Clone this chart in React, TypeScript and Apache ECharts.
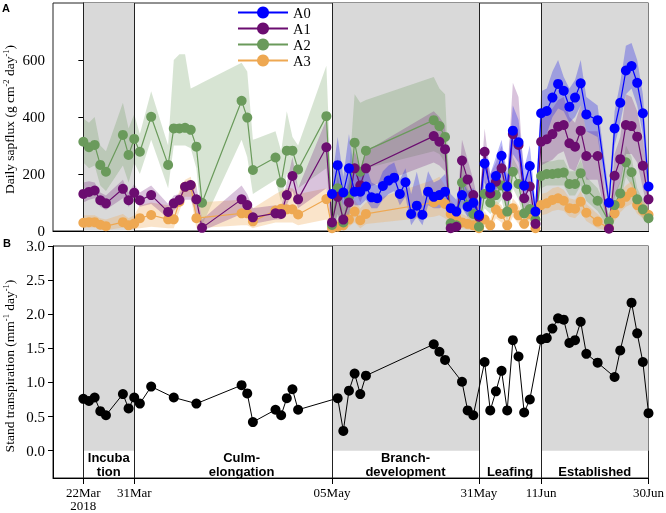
import React, { useEffect, useRef } from "react";
import * as echarts from "echarts";

// x values are days counted from 22 Mar 2018
const X_TICK_DAYS = [0, 9, 44, 70, 81, 100];
const X_TICK_LABELS = ["22Mar\n2018", "31Mar", "05May", "31May", "11Jun", "30Jun"];
const PHASE_BOUNDS = [0, 9, 44, 70, 81];
const SHADED = [[0, 9], [44, 70], [81, 100]];
const PHASE_TEXT = ["Incuba\ntion", "Culm-\nelongation", "Branch-\ndevelopment", "Leafing", "Established"];
const PHASE_DAY = [4.5, 28, 57, 75.5, 90.5];
const TOP_Y_TICKS = [0, 200, 400, 600];
const BOT_Y_TICKS = [0, 0.5, 1, 1.5, 2, 2.5, 3];

const DAYS = [0, 1, 2, 3, 4, 7, 8, 9, 10, 12, 15, 16, 17, 18, 19, 20, 21, 28, 29, 30, 34, 35, 36, 37, 38, 43,
  44, 45, 46, 47, 48, 49, 50, 62, 63, 64, 65, 66, 67, 68, 69, 70,
  71, 72, 73, 74, 75, 76, 77, 78, 79, 80,
  81, 82, 83, 84, 85, 86, 87, 88, 89, 91, 93, 94, 95, 96, 97, 98, 99, 100];

const A0_DAYS = [44, 45, 46, 47, 48, 49, 50, 51, 52, 53, 54, 55, 56, 57, 58, 59, 60, 61, 62, 63, 64, 65, 66, 67, 68, 69, 70,
  71, 72, 73, 74, 75, 76, 77, 78, 79, 80,
  81, 82, 83, 84, 85, 86, 87, 88, 89, 91, 93, 94, 95, 96, 97, 98, 99, 100];
const A0_MEAN = [130, 231, 135, 220, 138, 138, 156, 118, 115, 158, 177, 187, 130, 171, 60, 89, 57, 138, 120, 126, 138, 80, 68, 126, 85, 99, 56,
  237, 153, 193, 264, 156, 352, 311, 159, 228, 68,
  413, 421, 468, 516, 492, 436, 468, 518, 409, 389, 99, 360, 450, 563, 579, 520, 413, 156];
const A0_LO = [80, 170, 90, 150, 90, 90, 110, 80, 80, 110, 130, 140, 90, 120, 20, 50, 20, 90, 80, 80, 90, 40, 30, 80, 50, 60, 20,
  170, 100, 140, 200, 100, 270, 240, 100, 160, 30,
  330, 340, 400, 430, 420, 380, 400, 440, 350, 330, 70, 300, 380, 480, 500, 440, 340, 120];
const A0_HI = [180, 330, 190, 340, 200, 200, 230, 170, 160, 210, 230, 240, 180, 220, 130, 208, 120, 210, 170, 180, 200, 130, 110, 180, 140, 150, 100,
  300, 200, 260, 320, 200, 440, 390, 220, 300, 100,
  490, 500, 560, 600, 540, 500, 530, 600, 470, 440, 130, 420, 520, 650, 660, 600, 480, 200];

const A1_MEAN = [130, 137, 142, 108, 97, 148, 108, 134, 108, 126, 67, 97, 109, 155, 161, 111, 11, 111, 91, 48, 62, 60, 126, 193, 111, 294,
  30, 120, 40, 100, 220, 160, 220, 333, 313, 287, 10, 15, 247, 181, 126, 50,
  278, 132, 173, 220, 123, 340, 302, 115, 156, 25,
  313, 322, 340, 366, 372, 308, 296, 352, 263, 263, 8, 194, 252, 372, 368, 331, 229, 111];
const A1_LO = [100, 110, 115, 85, 75, 115, 85, 105, 85, 95, 45, 70, 90, 110, 110, 60, 0, 60, 50, 25, 40, 40, 90, 140, 80, 150,
  0, 60, 10, 50, 150, 100, 150, 240, 230, 210, 0, 0, 180, 120, 80, 20,
  180, 80, 110, 150, 70, 230, 200, 60, 100, 5,
  230, 240, 250, 270, 280, 220, 210, 260, 180, 180, 0, 120, 170, 270, 270, 240, 150, 60];
const A1_HI = [170, 175, 170, 135, 125, 180, 135, 165, 135, 160, 95, 125, 130, 175, 180, 160, 40, 160, 130, 80, 90, 85, 170, 260, 150, 390,
  80, 190, 100, 170, 280, 220, 280, 420, 400, 370, 40, 50, 320, 250, 180, 90,
  360, 200, 240, 300, 190, 520, 470, 180, 230, 60,
  400, 410, 430, 460, 470, 400, 380, 440, 350, 350, 30, 270, 330, 480, 470, 420, 320, 170];

const A2_MEAN = [313, 294, 302, 232, 208, 337, 267, 323, 278, 401, 232, 360, 360, 362, 355, 296, 99, 457, 398, 214, 258, 170, 282, 282, 216, 403,
  21, 150, 30, 120, 310, 208, 282, 389, 368, 330, 27, 20, 170, 90, 60, 15,
  130, 99, 126, 160, 68, 208, 165, 62, 77, 40,
  193, 200, 200, 203, 205, 165, 165, 203, 146, 106, 33, 91, 132, 241, 206, 111, 76, 45];
const A2_LO = [240, 220, 230, 160, 140, 230, 170, 240, 200, 320, 150, 300, 300, 300, 290, 220, 20, 320, 260, 130, 180, 100, 200, 200, 150, 220,
  0, 50, 0, 40, 220, 120, 220, 280, 270, 240, 5, 5, 100, 50, 20, 5,
  80, 60, 80, 110, 30, 150, 110, 30, 40, 15,
  150, 160, 160, 160, 160, 125, 125, 160, 105, 70, 10, 55, 95, 190, 160, 75, 45, 20];
const A2_HI = [395, 380, 400, 300, 280, 450, 360, 410, 340, 490, 300, 600, 620, 620, 500, 510, 520, 590, 560, 320, 350, 280, 420, 330, 300, 580,
  80, 260, 80, 200, 480, 450, 460, 540, 500, 480, 60, 50, 250, 150, 100, 30,
  180, 140, 170, 210, 110, 260, 220, 100, 120, 70,
  240, 245, 245, 250, 250, 210, 210, 250, 190, 150, 60, 130, 175, 300, 260, 150, 110, 75];

const A3_MEAN = [29, 31, 31, 22, 17, 31, 20, 26, 45, 56, 41, 41, 103, 155, 160, 45, null, 62, 62, 34, 72, 78, 76, 76, 58, 112,
  10, 15, 20, 40, 68, 38, 60, 100, 110, 95, 60, 45, 30, 25, 20, 10,
  40, 20, 75, 60, 20, 80, 55, 25, 60, 10,
  91, 97, 109, 115, 106, 80, 78, 103, 64, 33, 10, 62, 97, 120, 136, 91, 73, 57];
const A3_LO = [10, 12, 12, 5, 3, 12, 5, 8, 10, 15, 10, 10, 70, 120, 120, 10, null, 20, 20, 10, 30, 30, 30, 30, 20, 40,
  0, 0, 5, 15, 30, 10, 25, 50, 55, 45, 25, 15, 10, 5, 5, 0,
  15, 5, 45, 30, 5, 50, 25, 5, 30, 0,
  55, 60, 70, 75, 70, 50, 45, 65, 35, 10, 0, 35, 65, 85, 95, 60, 45, 30];
const A3_HI = [55, 55, 55, 45, 40, 60, 45, 55, 90, 100, 90, 90, 140, 180, 190, 100, null, 110, 110, 80, 130, 140, 150, 150, 130, 150,
  30, 40, 50, 70, 110, 80, 100, 180, 190, 160, 110, 80, 60, 50, 45, 25,
  70, 40, 105, 90, 45, 115, 90, 50, 95, 25,
  130, 135, 150, 155, 145, 115, 110, 140, 95, 60, 25, 95, 135, 160, 175, 125, 105, 85];

const B_DAYS = [0, 1, 2, 3, 4, 7, 8, 9, 10, 12, 16, 20, 28, 29, 30, 34, 35, 36, 37, 38, 45, 46, 47, 48, 49, 50, 62, 63, 64, 67, 68, 69,
  71, 72, 73, 74, 75, 76, 77, 78, 79, 81, 82, 83, 84, 85, 86, 87, 88, 89, 91, 94, 95, 97, 98, 99, 100];
const B_VALUES = [0.76, 0.73, 0.78, 0.58, 0.52, 0.83, 0.62, 0.78, 0.69, 0.94, 0.78, 0.69, 0.96, 0.84, 0.42, 0.6, 0.52, 0.77, 0.9, 0.6,
  0.77, 0.29, 0.88, 1.13, 0.83, 1.1, 1.56, 1.45, 1.33, 1.01, 0.59, 0.52,
  1.3, 0.59, 0.87, 1.17, 0.59, 1.62, 1.38, 0.56, 0.75, 1.63, 1.65, 1.79, 1.94, 1.92, 1.58, 1.62, 1.89, 1.42, 1.29, 1.08, 1.47, 2.17, 1.72, 1.3, 0.55];

const SERIF = '"Liberation Serif", "Times New Roman", serif';
const SANS = '"Liberation Sans", Arial, sans-serif';
const X_MIN = -5.37;
const X_MAX = 100;

function pairs(days: number[], vals: (number | null)[]) {
  const out: number[][] = [];
  days.forEach((d, i) => {
    if (vals[i] != null) out.push([d, vals[i] as number]);
  });
  return out;
}

function band(days: number[], lo: (number | null)[], hi: (number | null)[], color: string, z: number) {
  const pts: number[][] = [];
  days.forEach((d, i) => {
    if (lo[i] != null && hi[i] != null) pts.push([d, lo[i] as number, hi[i] as number]);
  });
  return {
    type: "custom",
    xAxisIndex: 0,
    yAxisIndex: 0,
    z,
    silent: true,
    clip: true,
    data: pts,
    encode: { x: 0, y: [1, 2] },
    renderItem: (params: any, api: any) => {
      if (params.dataIndex !== 0) return null;
      const upper = pts.map((p) => api.coord([p[0], p[2]]));
      const lower = pts.map((p) => api.coord([p[0], p[1]])).reverse();
      return { type: "polygon", shape: { points: upper.concat(lower) }, style: { fill: color } };
    },
  };
}

function shading(axisIdx: number, yLo: number, yHi: number) {
  return {
    type: "custom",
    xAxisIndex: axisIdx,
    yAxisIndex: axisIdx,
    z: 1,
    silent: true,
    data: SHADED.map(([a, b]) => [a, b, yLo, yHi]),
    encode: { x: [0, 1], y: [2, 3] },
    renderItem: (params: any, api: any) => {
      const p1 = api.coord([api.value(0), api.value(3)]);
      const p2 = api.coord([api.value(1), api.value(2)]);
      return {
        type: "rect",
        shape: { x: p1[0], y: p1[1], width: p2[0] - p1[0], height: p2[1] - p1[1] },
        style: { fill: "#d9d9d9" },
      };
    },
  };
}

function vlines(axisIdx: number, yLo: number, yHi: number) {
  return {
    type: "custom",
    xAxisIndex: axisIdx,
    yAxisIndex: axisIdx,
    z: 3,
    silent: true,
    data: PHASE_BOUNDS.map((d) => [d, yLo, yHi]),
    encode: { x: 0, y: [1, 2] },
    renderItem: (params: any, api: any) => {
      const p1 = api.coord([api.value(0), api.value(1)]);
      const p2 = api.coord([api.value(0), api.value(2)]);
      return {
        type: "line",
        shape: { x1: Math.round(p1[0]) + 0.5, y1: p1[1], x2: Math.round(p1[0]) + 0.5, y2: p2[1] },
        style: { stroke: "#222", lineWidth: 1 },
      };
    },
  };
}

function lineSeries(name: string, data: number[][], color: string, z: number) {
  return {
    type: "line",
    name,
    xAxisIndex: 0,
    yAxisIndex: 0,
    z,
    data,
    symbol: "circle",
    symbolSize: 10,
    showSymbol: true,
    itemStyle: { color },
    lineStyle: { color, width: 1.2 },
    emphasis: { disabled: true },
    silent: true,
  };
}

export default function App() {
  const ref = useRef<HTMLDivElement>(null);
  useEffect(() => {
    if (!ref.current) return;
    const chart = echarts.init(ref.current, null, { renderer: "svg" });
    const axisLineStyle = { color: "#000", width: 1 };
    const option: any = {
      animation: false,
      textStyle: { fontFamily: SERIF },
      grid: [
        { left: 53, top: 3, width: 595.5, height: 228, show: true, borderColor: "#222", borderWidth: 1, outerBoundsMode: "none" },
        { left: 53, top: 246, width: 595.5, height: 232, show: true, borderColor: "#222", borderWidth: 1, outerBoundsMode: "none" },
      ],
      xAxis: [
        {
          type: "value", gridIndex: 0, min: X_MIN, max: X_MAX,
          axisLine: { show: true, lineStyle: axisLineStyle }, axisTick: { show: false },
          axisLabel: { show: false }, splitLine: { show: false },
        },
        {
          type: "value", gridIndex: 1, min: X_MIN, max: X_MAX,
          axisLine: { show: true, onZero: false, lineStyle: axisLineStyle },
          axisTick: { show: true, customValues: X_TICK_DAYS, length: 6, lineStyle: axisLineStyle },
          axisLabel: {
            show: true, customValues: X_TICK_DAYS, margin: 8, fontSize: 13, lineHeight: 13,
            color: "#000", fontFamily: SERIF,
            formatter: (v: number) => {
              const i = X_TICK_DAYS.indexOf(v);
              return i >= 0 ? X_TICK_LABELS[i] : "";
            },
          },
          splitLine: { show: false },
        },
      ],
      yAxis: [
        {
          type: "value", gridIndex: 0, min: 0, max: 800,
          axisLine: { show: true, lineStyle: axisLineStyle },
          axisTick: { show: true, customValues: TOP_Y_TICKS, length: 5, lineStyle: axisLineStyle },
          axisLabel: { show: true, customValues: TOP_Y_TICKS, margin: 8, fontSize: 15, color: "#000", fontFamily: SERIF },
          splitLine: { show: false },
        },
        {
          type: "value", gridIndex: 1, min: -0.4, max: 3,
          axisLine: { show: true, onZero: false, lineStyle: axisLineStyle },
          axisTick: { show: true, customValues: BOT_Y_TICKS, length: 5, lineStyle: axisLineStyle },
          axisLabel: {
            show: true, customValues: BOT_Y_TICKS, margin: 8, fontSize: 15, color: "#000", fontFamily: SERIF,
            formatter: (v: number) => v.toFixed(1),
          },
          splitLine: { show: false },
        },
      ],
      legend: {
        data: ["A0", "A1", "A2", "A3"],
        orient: "vertical",
        left: 237,
        top: 5,
        padding: 0,
        itemWidth: 50,
        itemHeight: 15,
        itemGap: 1,
        selectedMode: false,
        textStyle: { fontSize: 14.5, color: "#000", fontFamily: SERIF },
      },
      graphic: [
        { type: "text", left: 2, top: 2, style: { text: "A", font: `bold 11px ${SANS}`, fill: "#000" } },
        { type: "text", left: 3, top: 237, style: { text: "B", font: `bold 11px ${SANS}`, fill: "#000" } },
        {
          type: "text", x: 9, y: 119.5, rotation: Math.PI / 2,
          style: {
            text: "{n|Daily sapflux (g cm}{s|-2}{n| day}{s|-1}{n|)}",
            align: "center", verticalAlign: "middle",
            rich: {
              n: { fontSize: 13.5, fontFamily: SERIF, fill: "#000", lineHeight: 16 },
              s: { fontSize: 8.5, fontFamily: SERIF, fill: "#000", verticalAlign: "top", lineHeight: 10 },
            },
          },
        },
        {
          type: "text", x: 9, y: 366, rotation: Math.PI / 2,
          style: {
            text: "{n|Stand transpiration (mm}{s|-1}{n| day}{s|-1}{n|)}",
            align: "center", verticalAlign: "middle",
            rich: {
              n: { fontSize: 13.5, fontFamily: SERIF, fill: "#000", lineHeight: 16 },
              s: { fontSize: 8.5, fontFamily: SERIF, fill: "#000", verticalAlign: "top", lineHeight: 10 },
            },
          },
        },
      ],
      series: [
        shading(0, 0, 800),
        shading(1, 0, 3),
        band(DAYS, A2_LO, A2_HI, "rgba(100,150,85,0.26)", 2),
        band(DAYS, A3_LO, A3_HI, "rgba(240,170,90,0.32)", 2),
        band(DAYS, A1_LO, A1_HI, "rgba(120,40,130,0.28)", 2),
        band(A0_DAYS, A0_LO, A0_HI, "rgba(40,40,235,0.33)", 2),
        vlines(0, 0, 800),
        vlines(1, -0.4, 3),
        lineSeries("A3", pairs(DAYS, A3_MEAN), "#eea852", 5),
        lineSeries("A2", pairs(DAYS, A2_MEAN), "#6a9a5b", 5),
        lineSeries("A1", pairs(DAYS, A1_MEAN), "#6b0d70", 5),
        lineSeries("A0", pairs(A0_DAYS, A0_MEAN), "#0000ff", 5),
        {
          type: "line",
          name: "Stand",
          xAxisIndex: 1,
          yAxisIndex: 1,
          z: 5,
          data: pairs(B_DAYS, B_VALUES),
          symbol: "circle",
          symbolSize: 10,
          itemStyle: { color: "#000" },
          lineStyle: { color: "#000", width: 1 },
          emphasis: { disabled: true },
          silent: true,
        },
        {
          type: "custom",
          xAxisIndex: 1,
          yAxisIndex: 1,
          z: 4,
          silent: true,
          data: PHASE_DAY.map((d, i) => [d, -0.4, i]),
          encode: { x: 0, y: 1 },
          renderItem: (params: any, api: any) => {
            const p = api.coord([api.value(0), api.value(1)]);
            return {
              type: "text",
              style: {
                text: PHASE_TEXT[api.value(2)],
                x: p[0],
                y: p[1] + 0.5,
                align: "center",
                verticalAlign: "bottom",
                font: `bold 13px ${SANS}`,
                lineHeight: 14,
                fill: "#000",
              },
            };
          },
        },
      ],
    };
    chart.setOption(option);
    return () => chart.dispose();
  }, []);
  return <div ref={ref} style={{ position: "fixed", left: 0, top: 0, width: 666, height: 513 }} />;
}
